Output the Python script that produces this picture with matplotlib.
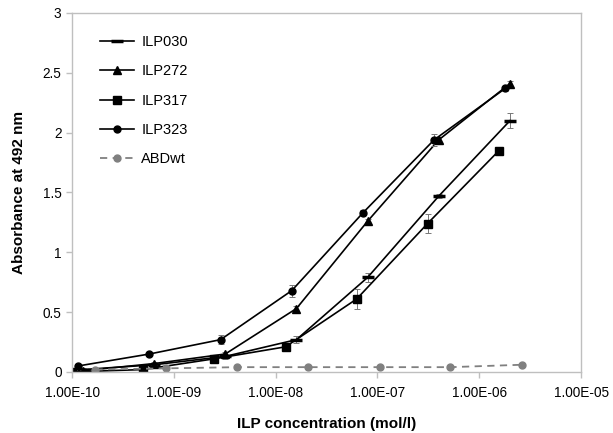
import numpy as np
import matplotlib
matplotlib.use("Agg")
import matplotlib.pyplot as plt
from matplotlib.ticker import FixedLocator, FuncFormatter, NullLocator

plt.rcParams['font.family'] = ['Liberation Sans', 'DejaVu Sans']

# concentrations (mol/l), 5-fold dilutions
conc_030 = [1.28e-10, 6.4e-10, 3.2e-9, 1.6e-8, 8.0e-8, 4.0e-7, 2.0e-6]
conc_272 = [1.28e-10, 6.4e-10, 3.2e-9, 1.6e-8, 8.0e-8, 4.0e-7, 2.0e-6]
conc_317 = [1.0e-10, 5.0e-10, 2.5e-9, 1.25e-8, 6.25e-8, 3.1e-7, 1.56e-6]
conc_323 = [1.15e-10, 5.76e-10, 2.88e-9, 1.44e-8, 7.2e-8, 3.6e-7, 1.8e-6]
conc_abd = [1.7e-10, 8.4e-10, 4.2e-9, 2.1e-8, 1.05e-7, 5.2e-7, 2.6e-6]

# absorbance at 492 nm
abs_030 = [0.02, 0.06, 0.13, 0.27, 0.79, 1.47, 2.10]
abs_272 = [0.01, 0.07, 0.15, 0.53, 1.26, 1.94, 2.41]
abs_317 = [0.00, 0.02, 0.11, 0.21, 0.61, 1.24, 1.85]
abs_323 = [0.05, 0.15, 0.27, 0.68, 1.33, 1.94, 2.37]
abs_abd = [0.02, 0.03, 0.04, 0.04, 0.04, 0.04, 0.06]

# error bars
err_030 = [0.01, 0.01, 0.02, 0.03, 0.04, 0.02, 0.06]
err_272 = [0.01, 0.01, 0.02, 0.02, 0.02, 0.02, 0.02]
err_317 = [0.01, 0.01, 0.02, 0.02, 0.08, 0.08, 0.02]
err_323 = [0.01, 0.01, 0.04, 0.05, 0.02, 0.05, 0.02]

fig = plt.figure(figsize=(6.13, 4.33), dpi=100)
ax = fig.add_axes([0.1175, 0.141, 0.8305, 0.829])

gray = '#bfbfbf'

series = [
    (conc_030, abs_030, err_030, '_', 8, 'ILP030'),
    (conc_272, abs_272, err_272, '^', 6, 'ILP272'),
    (conc_317, abs_317, err_317, 's', 5.5, 'ILP317'),
    (conc_323, abs_323, err_323, 'o', 5, 'ILP323'),
]
for xs, ys, es, mk, ms, name in series:
    ax.errorbar(xs, ys, yerr=es, fmt='none', ecolor='#777777', elinewidth=0.7,
                capsize=2.5, capthick=0.7)
    ax.plot(xs, ys, color='black', lw=1.2, marker=mk, ms=ms,
            mew=2.5 if mk == '_' else 1, label=name)
ax.plot(conc_abd, abs_abd, color='#808080', lw=1.3, ls=(0, (4, 3)),
        marker='o', ms=5, label='ABDwt')

ax.set_xscale('log')
ax.set_xlim(1e-10, 1e-5)
ax.set_ylim(0, 3)
ax.xaxis.set_major_locator(FixedLocator([1e-10, 1e-9, 1e-8, 1e-7, 1e-6, 1e-5]))
ax.xaxis.set_minor_locator(NullLocator())
ax.xaxis.set_major_formatter(FuncFormatter(lambda v, p: '%.2E' % v))
ax.set_yticks([0, 0.5, 1, 1.5, 2, 2.5, 3])
ax.set_yticklabels(['0', '0.5', '1', '1.5', '2', '2.5', '3'])

for s in ax.spines.values():
    s.set_color(gray)
    s.set_linewidth(1)
ax.tick_params(axis='both', colors=gray, length=4, width=1, labelsize=9.8,
               labelcolor='black')
ax.tick_params(axis='x', pad=6)

ax.set_xlabel('ILP concentration (mol/l)', fontsize=11, fontweight='bold', labelpad=12)
ax.set_ylabel('Absorbance at 492 nm', fontsize=11, fontweight='bold', labelpad=12)

ax.legend(loc='upper left', bbox_to_anchor=(0.03, 0.975), frameon=False,
          fontsize=10.5, handlelength=2.3, labelspacing=1.05, handletextpad=0.5)

fig.savefig('out.png', dpi=100)
